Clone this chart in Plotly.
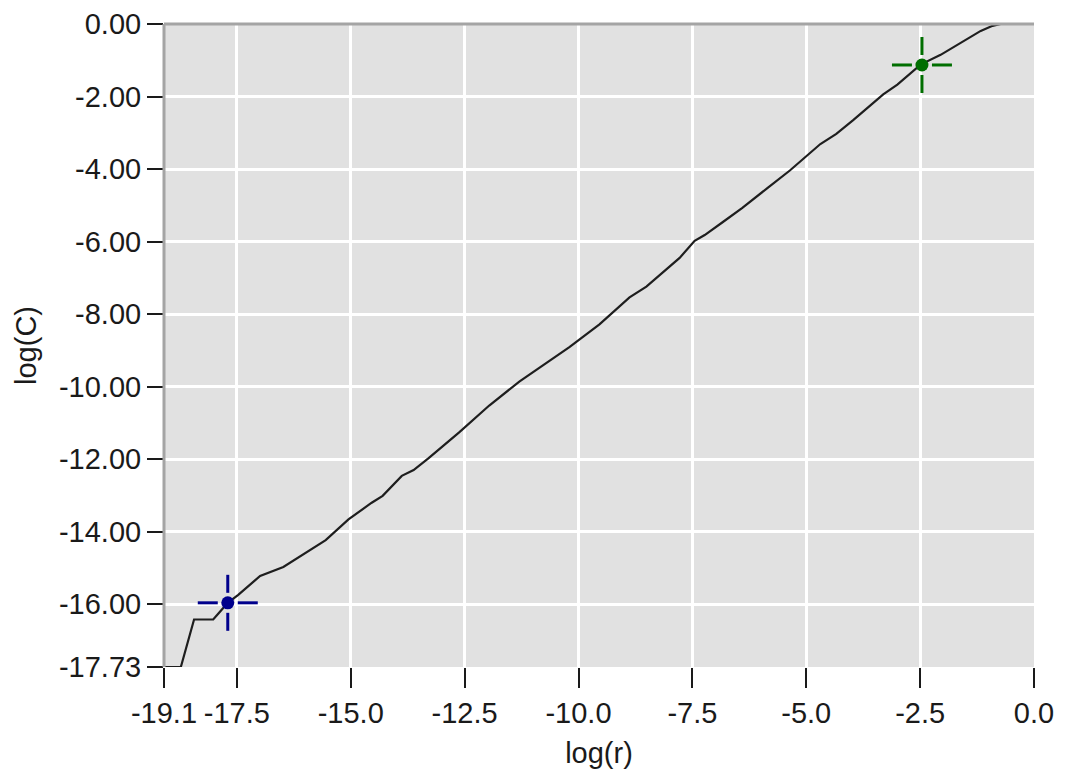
import plotly.graph_objects as go

# ---- data ----
log_r = [-19.10, -18.73, -18.44, -18.02, -17.91, -17.70, -17.47, -16.99, -16.48,
         -15.55, -15.05, -14.54, -14.30, -13.88, -13.62, -13.29, -12.62, -11.96,
         -11.30, -10.20, -9.54, -8.88, -8.51, -8.17, -7.78, -7.45, -7.23, -6.83,
         -6.41, -5.84, -5.36, -4.69, -4.34, -3.97, -3.31, -3.00, -2.49, -2.05,
         -1.61, -1.17, -0.91, -0.73, 0.00]
log_c = [-17.73, -17.73, -16.42, -16.42, -16.26, -15.96, -15.74, -15.22, -14.97,
         -14.23, -13.66, -13.20, -13.01, -12.46, -12.30, -11.97, -11.26, -10.52,
         -9.86, -8.91, -8.28, -7.54, -7.24, -6.86, -6.45, -5.98, -5.82, -5.46,
         -5.08, -4.51, -4.04, -3.31, -3.03, -2.65, -1.94, -1.67, -1.12, -0.85,
         -0.52, -0.19, -0.05, 0.00, 0.00]

cursor_x = [-17.70, -2.46]
cursor_y = [-15.96, -1.13]
cursor_colors = ["#00008c", "#006e00"]

x_tickvals = [-19.1, -17.5, -15.0, -12.5, -10.0, -7.5, -5.0, -2.5, 0.0]
x_ticktext = ["-19.1", "-17.5", "-15.0", "-12.5", "-10.0", "-7.5", "-5.0", "-2.5", "0.0"]
y_tickvals = [0, -2, -4, -6, -8, -10, -12, -14, -16, -17.73]
y_ticktext = ["0.00", "-2.00", "-4.00", "-6.00", "-8.00", "-10.00", "-12.00",
              "-14.00", "-16.00", "-17.73"]

x_range = [-19.1, 0.0]
y_range = [-17.73, 0.0]

FONT = "Liberation Sans"
TXT = "#1a1a1a"
FS = 29

fig = go.Figure()

fig.add_trace(go.Scatter(
    x=log_r, y=log_c, mode="lines",
    line=dict(color="#1e1e1e", width=2.2),
    cliponaxis=False, showlegend=False, hoverinfo="skip"))

# cursors: crosshair arms (pixel-sized shapes anchored at data) + dot
shapes = []
for cx, cy, col in zip(cursor_x, cursor_y, cursor_colors):
    for (a0, a1) in [(-30, -10), (10, 30)]:
        shapes.append(dict(type="line", xref="x", yref="y",
                           xsizemode="pixel", xanchor=cx, x0=a0, x1=a1,
                           y0=cy, y1=cy, line=dict(color=col, width=3)))
    for (b0, b1) in [(-28, -10), (10, 28)]:
        shapes.append(dict(type="line", xref="x", yref="y",
                           ysizemode="pixel", yanchor=cy, y0=b0, y1=b1,
                           x0=cx, x1=cx, line=dict(color=col, width=3)))

# sunken frame edges (left and top)
shapes.append(dict(type="line", xref="paper", yref="paper", x0=0, x1=0, y0=0, y1=1,
                   line=dict(color="#a4a4a4", width=3)))
shapes.append(dict(type="line", xref="paper", yref="paper", x0=0, x1=1, y0=1, y1=1,
                   line=dict(color="#a4a4a4", width=3)))

fig.add_trace(go.Scatter(
    x=cursor_x, y=cursor_y, mode="markers",
    marker=dict(color=cursor_colors, size=13, line=dict(width=0)),
    cliponaxis=False, showlegend=False, hoverinfo="skip"))

fig.update_layout(
    width=1057, height=767,
    margin=dict(l=156, r=31, t=16, b=108),
    paper_bgcolor="white", plot_bgcolor="#e1e1e1",
    font=dict(family=FONT, size=FS, color=TXT),
    shapes=shapes,
    xaxis=dict(range=x_range, tickmode="array", tickvals=x_tickvals, ticktext=x_ticktext,
               showgrid=True, gridcolor="white", gridwidth=2.5, zeroline=False,
               ticks="outside", ticklen=20, tickwidth=2, tickcolor="#1a1a1a",
               showline=False, automargin=False, ticklabeloverflow="allow",
               title=dict(text="log(r)", font=dict(size=FS), standoff=14)),
    yaxis=dict(range=y_range, tickmode="array", tickvals=y_tickvals, ticktext=y_ticktext,
               showgrid=True, gridcolor="white", gridwidth=2.5, zeroline=False,
               ticks="outside", ticklen=16, tickwidth=2, tickcolor="#1a1a1a",
               showline=False, automargin=False, ticklabeloverflow="allow",
               title=dict(text="log(C)", font=dict(size=FS), standoff=13)),
)

fig.write_html("out.html")
